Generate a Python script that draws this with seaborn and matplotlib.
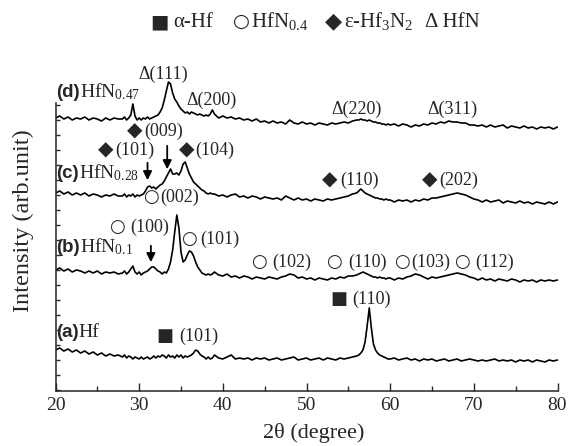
import matplotlib
matplotlib.use("Agg")
import numpy as np
import pandas as pd
import matplotlib.pyplot as plt
import seaborn as sns

# 2-theta grid (finer around the main peaks)
two_theta = [
    20.0, 20.5, 21.0, 21.5, 22.0, 22.5, 23.0, 23.5, 24.0, 24.5, 25.0, 25.5, 26.0, 26.5, 27.0, 27.5,
    28.0, 28.25, 28.5, 28.75, 29.0, 29.25, 29.5, 29.75, 30.0, 30.25, 30.5, 30.75, 31.0, 31.25, 31.5, 31.75,
    32.0, 32.25, 32.5, 32.75, 33.0, 33.25, 33.5, 33.75, 34.0, 34.25, 34.5, 34.75, 35.0, 35.25, 35.5, 35.75,
    36.0, 36.25, 36.5, 36.75, 37.0, 37.25, 37.5, 37.75, 38.0, 38.25, 38.5, 38.75,
    39.0, 39.5, 40.0, 40.5, 41.0, 41.5, 42.0, 42.5, 43.0, 43.5, 44.0, 44.5, 45.0, 45.5, 46.0, 46.5, 47.0, 47.5,
    48.0, 48.5, 49.0, 49.5, 50.0, 50.5, 51.0, 51.5, 52.0, 52.5, 53.0, 53.5, 54.0, 54.5, 55.0, 55.5,
    56.0, 56.25, 56.5, 56.75, 57.0, 57.25, 57.5, 57.75, 58.0, 58.25, 58.5, 58.75, 59.0, 59.25, 59.5, 59.75,
    60.0, 60.5, 61.0, 61.5, 62.0, 62.5, 63.0, 63.5, 64.0, 64.5, 65.0, 65.5, 66.0, 66.5, 67.0, 67.5, 68.0, 68.5, 69.0, 69.5, 70.0,
    70.5, 71.0, 71.5, 72.0, 72.5, 73.0, 73.5, 74.0, 74.5, 75.0, 75.5, 76.0, 76.5, 77.0, 77.5, 78.0, 78.5, 79.0, 79.5, 80.0,
]

# intensities (stacked, arbitrary units)
int_a_hf = [
    40, 42, 39, 41, 38, 40, 37, 39, 36, 38, 35, 37, 34, 36, 34, 35,
    33, 35, 32, 34, 33, 31, 33, 32, 31, 33, 31, 32, 33, 31, 32, 34,
    32, 34, 33, 35, 34, 32, 35, 33, 34, 32, 35, 33, 35, 32, 34, 33,
    34, 35, 37, 40, 39, 36, 34, 33, 31, 33, 31, 32,
    35, 32, 31, 33, 35, 31, 32, 31, 32, 30, 32, 31, 32, 30, 31, 32, 30, 31,
    32, 33, 30, 31, 32, 30, 31, 32, 30, 32, 31, 30, 32, 31, 32, 33,
    34, 35, 37, 40, 48, 64, 82, 62, 46, 40, 37, 35, 34, 33, 32, 31,
    31, 32, 30, 31, 32, 30, 31, 29, 31, 30, 31, 29, 30, 31, 29, 30, 31, 29, 30, 31, 30,
    29, 30, 29, 30, 31, 29, 30, 29, 30, 28, 30, 29, 30, 28, 30, 29, 28, 30, 29, 30,
]
int_b_hfn01 = [
    120, 122, 119, 121, 118, 120, 119, 117, 119, 117, 119, 116, 118, 117, 118, 116,
    117, 119, 116, 118, 121, 124, 118, 116, 118, 115, 117, 118, 119, 121, 123, 123,
    121, 119, 118, 116, 118, 117, 121, 128, 140, 158, 175, 162, 138, 128, 130, 135,
    139, 138, 134, 128, 123, 120, 117, 116, 115, 116, 115, 116,
    118, 115, 114, 116, 113, 114, 112, 114, 113, 111, 113, 112, 111, 113, 112, 111, 113, 114,
    116, 115, 112, 113, 111, 112, 110, 112, 111, 110, 112, 111, 113, 112, 114, 114,
    115, 116, 117, 118, 117, 116, 115, 114, 113, 113, 112, 113, 112, 112, 111, 112,
    112, 110, 112, 111, 113, 114, 116, 115, 113, 111, 113, 112, 113, 114, 115, 116, 117, 116, 115, 113, 112,
    110, 112, 110, 111, 109, 111, 110, 109, 111, 110, 108, 110, 109, 110, 108, 110, 109, 110, 109, 110,
]
int_c_hfn028 = [
    197, 199, 196, 198, 195, 197, 195, 197, 194, 196, 195, 193, 195, 194, 196, 194,
    194, 196, 193, 195, 194, 196, 193, 195, 194, 195, 196, 199, 203, 204, 202, 203,
    201, 203, 205, 206, 209, 213, 217, 221, 216, 216, 217, 215, 219, 226, 228, 222,
    216, 212, 208, 206, 204, 202, 200, 199, 197, 196, 197, 196,
    196, 194, 195, 193, 195, 196, 193, 194, 192, 194, 193, 191, 193, 192, 191, 192, 190, 194,
    192, 190, 192, 190, 191, 189, 191, 190, 189, 191, 190, 191, 192, 193, 194, 196,
    197, 199, 201, 199, 197, 196, 195, 194, 193, 192, 192, 191, 191, 190, 191, 190,
    190, 188, 190, 189, 190, 188, 190, 189, 191, 190, 192, 192, 193, 194, 195, 196, 197, 196, 195, 193, 191,
    190, 188, 190, 188, 189, 190, 187, 189, 188, 187, 189, 187, 188, 186, 188, 187, 186, 188, 186, 188,
]
int_d_hfn047 = [
    272, 274, 271, 273, 270, 272, 271, 273, 270, 272, 271, 269, 272, 270, 272, 271,
    271, 273, 270, 272, 275, 286, 274, 270, 272, 270, 272, 271, 273, 271, 272, 273,
    274, 275, 278, 282, 290, 299, 308, 306, 297, 291, 288, 284, 281, 279, 277, 278,
    276, 278, 277, 276, 275, 276, 275, 274, 275, 274, 276, 280,
    276, 272, 274, 272, 273, 271, 272, 270, 271, 269, 271, 268, 269, 267, 269, 267, 268, 266,
    270, 267, 266, 268, 266, 267, 265, 267, 266, 265, 267, 266, 267, 268, 267, 269,
    270, 270, 271, 270, 270, 269, 270, 269, 268, 268, 267, 267, 266, 266, 265, 266,
    265, 266, 264, 266, 265, 263, 265, 264, 266, 265, 267, 266, 268, 267, 269, 268, 268, 267, 267, 265, 265,
    264, 265, 263, 265, 263, 264, 265, 262, 264, 263, 262, 264, 262, 263, 261, 263, 262, 263, 261, 263,
]

samples = ["(a)", "(b)", "(c)", "(d)"]
x_major = [20, 30, 40, 50, 60, 70, 80]
x_minor = [25, 35, 45, 55, 65, 75]
y_tick_pos = list(range(0, 286, 15))

df = pd.concat([
    pd.DataFrame({"two_theta": two_theta, "intensity": vals, "sample": s})
    for s, vals in zip(samples, [int_a_hf, int_b_hfn01, int_c_hfn028, int_d_hfn047])
])

sns.set_style("ticks")
plt.rcParams["font.family"] = ["Liberation Serif", "DejaVu Sans"]
plt.rcParams["mathtext.fontset"] = "custom"
plt.rcParams["mathtext.rm"] = "Liberation Serif"
plt.rcParams["mathtext.it"] = "Liberation Serif:italic"

fig = plt.figure(figsize=(5.78, 4.46), dpi=100)
ax = fig.add_axes([55.5 / 578, 55 / 446, 502 / 578, 320 / 446])

sns.lineplot(data=df, x="two_theta", y="intensity", units="sample", estimator=None,
             color="black", linewidth=1.2, legend=False, ax=ax)

ax.set_xlim(20, 80)
ax.set_ylim(-1, 319)
sns.despine(ax=ax)
ax.spines["left"].set_bounds(-1, 287)
for sp in ["left", "bottom"]:
    ax.spines[sp].set_linewidth(1.1)
ax.set_xticks(x_major)
ax.set_xticks(x_minor, minor=True)
ax.set_yticks(y_tick_pos)
ax.tick_params(axis="x", which="major", direction="in", length=6, width=1, labelsize=14, pad=4)
ax.tick_params(axis="x", which="minor", direction="in", length=3.5, width=1)
ax.tick_params(axis="y", direction="in", length=3, width=1, labelleft=False)
ax.set_xlabel("")
ax.set_ylabel("")

fig.text(314 / 578, 1 - 433 / 446, "2θ (degree)", fontsize=16, ha="center", va="center")
fig.text(23 / 578, 1 - 221 / 446, "Intensity (arb.unit)", fontsize=17.5, rotation=90,
         ha="center", va="center")

# phase legend across the top
leg_y = 1 - 27 / 446
sym = dict(family="DejaVu Sans", va="baseline")
fig.text(150 / 578, leg_y, "■", fontsize=14, **sym)
fig.text(173 / 578, leg_y, "α-Hf", fontsize=15, va="baseline")
fig.text(233 / 578, leg_y, "○", fontsize=14, **sym)
fig.text(251 / 578, leg_y, "HfN$_{0.4}$", fontsize=15, va="baseline")
fig.text(325 / 578, leg_y, "◆", fontsize=16, **sym)
fig.text(344 / 578, leg_y, "ε-Hf$_3$N$_2$", fontsize=15, va="baseline")
fig.text(425 / 578, leg_y, "Δ HfN", fontsize=15, va="baseline")

# sample labels: bold tag followed by the composition
fig.canvas.draw()
renderer = fig.canvas.get_renderer()
panel = [("(d)", "HfN$_{0.47}$", 293), ("(c)", "HfN$_{0.28}$", 212),
         ("(b)", "HfN$_{0.1}$", 138), ("(a)", "Hf", 53)]
for tag, name, yb in panel:
    t = ax.text(20.05, yb, tag, family="Liberation Sans", fontweight="bold", fontsize=13.5,
                va="baseline")
    x_end = ax.transData.inverted().transform((t.get_window_extent(renderer).x1, 0))[0]
    ax.text(x_end, yb, name, fontsize=14, va="baseline")

# HfN peak indices
for txt, px, py in [("Δ(111)", 32.84, 316), ("Δ(200)", 38.7, 290),
                    ("Δ(220)", 55.96, 281), ("Δ(311)", 67.49, 281)]:
    ax.text(px, py, txt, fontsize=13, ha="center", va="center")

# other phases: symbol, then (hkl)
marked = [
    ("◆", "(009)", 30.45, 30.57, 259), ("◆", "(101)", 26.87, 27.11, 240),
    ("◆", "(104)", 36.55, 36.67, 240), ("○", "(002)", 32.37, 32.49, 193),
    ("◆", "(110)", 53.75, 53.99, 210), ("◆", "(202)", 65.70, 65.83, 210),
    ("○", "(100)", 28.30, 28.90, 163), ("○", "(101)", 36.91, 37.26, 151),
    ("○", "(102)", 45.27, 45.87, 128), ("○", "(110)", 54.23, 54.95, 128),
    ("○", "(103)", 62.35, 62.47, 128), ("○", "(112)", 69.52, 70.12, 128),
    ("■", "(110)", 54.83, 55.42, 91), ("■", "(101)", 34.04, 34.75, 54),
]
sym_size = {"◆": 14.5, "○": 13, "■": 13}
for s, hkl, xs, xh, yy in marked:
    ax.text(xs, yy, s, family="DejaVu Sans", fontsize=sym_size[s], ha="right", va="center")
    ax.text(xh, yy, hkl, fontsize=13, ha="left", va="center")

arrows = [(31.0, 230, 207), (33.35, 247, 218), (31.4, 147, 125)]
for ax_x, y0, y1 in arrows:
    ax.annotate("", xy=(ax_x, y1), xytext=(ax_x, y0),
                arrowprops=dict(arrowstyle="-|>", color="black", lw=1.3, mutation_scale=13))

fig.savefig("out.png", dpi=100)
